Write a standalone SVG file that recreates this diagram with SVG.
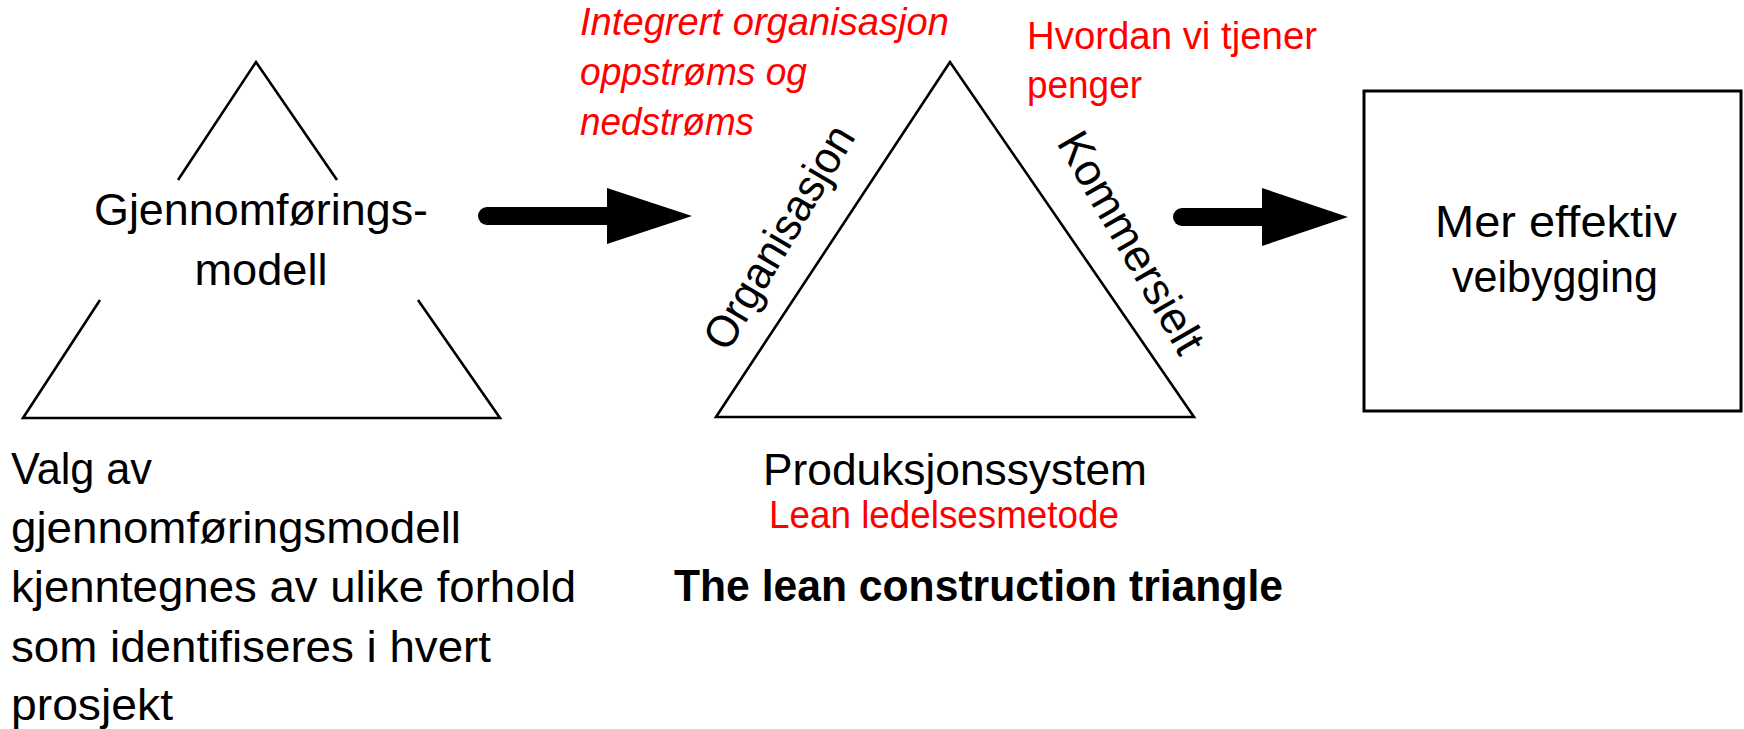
<svg xmlns="http://www.w3.org/2000/svg" width="1744" height="729" viewBox="0 0 1744 729">
<style>
.t{font-family:"Liberation Sans",Arial,sans-serif;font-size:45px;fill:#000}
.r{font-family:"Liberation Sans",Arial,sans-serif;font-size:38px;fill:#ff0000}
.i{font-style:italic}
.b{font-weight:bold}
.ln{fill:none;stroke:#000;stroke-width:2.6;stroke-linejoin:miter}
.shaft{stroke:#000;stroke-width:18;stroke-linecap:round;fill:none}
.head{fill:#000}
</style>
<rect width="1744" height="729" fill="#fff"/>
<g id="node-gjennomforingsmodell">
<polyline class="ln" points="178,180 256,62 337,180"/>
<polyline class="ln" points="100,300 23,418 500,418 418,300"/>
<text class="t" x="261" y="225" text-anchor="middle" textLength="334" lengthAdjust="spacingAndGlyphs">Gjennomførings-</text>
<text class="t" x="261" y="285" text-anchor="middle" textLength="133" lengthAdjust="spacingAndGlyphs">modell</text>
</g>
<g id="note-valg">
<text class="t" x="11" y="484" textLength="141" lengthAdjust="spacingAndGlyphs">Valg av</text>
<text class="t" x="11" y="543" textLength="450" lengthAdjust="spacingAndGlyphs">gjennomføringsmodell</text>
<text class="t" x="11" y="602" textLength="565" lengthAdjust="spacingAndGlyphs">kjenntegnes av ulike forhold</text>
<text class="t" x="11" y="662" textLength="480" lengthAdjust="spacingAndGlyphs">som identifiseres i hvert</text>
<text class="t" x="11" y="720" textLength="162" lengthAdjust="spacingAndGlyphs">prosjekt</text>
</g>
<g id="node-lean-triangle">
<polygon class="ln" points="950,62 716,417 1194,417"/>
<text class="t" transform="translate(792,245) rotate(-59.3)" text-anchor="middle" textLength="252" lengthAdjust="spacingAndGlyphs">Organisasjon</text>
<text class="t" transform="translate(1118,250) rotate(60)" text-anchor="middle" textLength="248" lengthAdjust="spacingAndGlyphs">Kommersielt</text>
<text class="t" x="763" y="485" textLength="384" lengthAdjust="spacingAndGlyphs">Produksjonssystem</text>
<text class="r" x="769" y="528" textLength="350" lengthAdjust="spacingAndGlyphs">Lean ledelsesmetode</text>
<text class="t b" x="674" y="601" textLength="609" lengthAdjust="spacingAndGlyphs">The lean construction triangle</text>
</g>
<g id="note-integrert">
<text class="r i" x="580" y="35" textLength="369" lengthAdjust="spacingAndGlyphs">Integrert organisasjon</text>
<text class="r i" x="580" y="85" textLength="227" lengthAdjust="spacingAndGlyphs">oppstrøms og</text>
<text class="r i" x="580" y="135" textLength="174" lengthAdjust="spacingAndGlyphs">nedstrøms</text>
</g>
<g id="note-hvordan">
<text class="r" x="1027" y="49" textLength="290" lengthAdjust="spacingAndGlyphs">Hvordan vi tjener</text>
<text class="r" x="1027" y="98" textLength="115" lengthAdjust="spacingAndGlyphs">penger</text>
</g>
<g id="node-veibygging">
<rect x="1364" y="91" width="377" height="320" fill="none" stroke="#000" stroke-width="3"/>
<text class="t" x="1556" y="237" text-anchor="middle" textLength="242" lengthAdjust="spacingAndGlyphs">Mer effektiv</text>
<text class="t" x="1555" y="292" text-anchor="middle" textLength="206" lengthAdjust="spacingAndGlyphs">veibygging</text>
</g>
<g id="connectors">
<line class="shaft" x1="487" y1="216" x2="610" y2="216"/>
<polygon class="head" points="607,188 692,216 607,244"/>
<line class="shaft" x1="1182" y1="217" x2="1265" y2="217"/>
<polygon class="head" points="1262,188 1348,217 1262,246"/>
</g>
</svg>
